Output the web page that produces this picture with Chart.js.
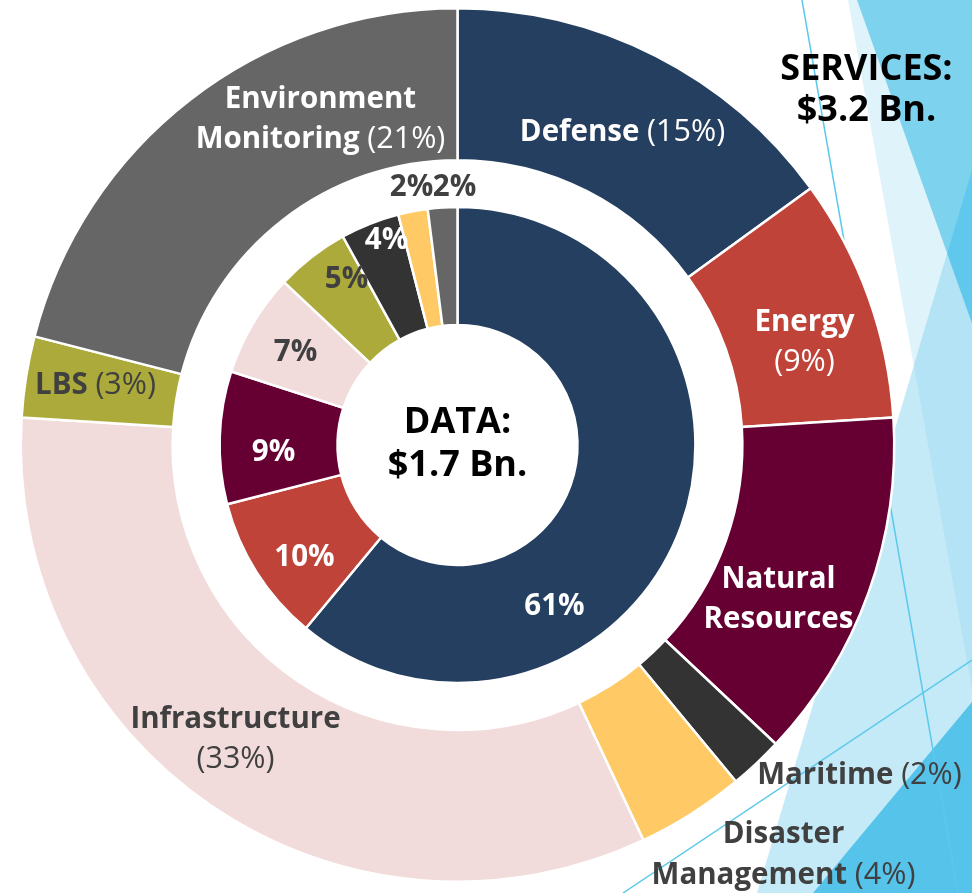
<!DOCTYPE html>
<html><head><meta charset="utf-8">
<script src="https://cdn.jsdelivr.net/npm/chart.js@4"></script>
<style>html,body{margin:0;padding:0;background:#fff;overflow:hidden}canvas{display:block}</style>
</head><body>
<canvas id="c" width="972" height="893"></canvas>
<script>
// ---------- DATA ----------
const servicesCategories = ['Defense','Energy','Natural Resources','Maritime','Disaster Management','Infrastructure','LBS','Environment Monitoring'];
const servicesShares = [15, 9, 13, 2, 4, 33, 3, 21];
const dataCategories = ['Defense','Energy','Natural Resources','Infrastructure','LBS','Maritime','Disaster Management','Environment Monitoring'];
const dataShares = [61, 10, 9, 7, 5, 4, 2, 2];
const servicesTitle = ['SERVICES:', '$3.2 Bn.'];
const dataTitle = ['DATA:', '$1.7 Bn.'];

// ---------- STYLE / LAYOUT ----------
const servicesColors = ['#243F60','#C0433A','#660033','#333333','#FFCA66','#F2DCDB','#ABAA3A','#666666'];
const dataColors = ['#243F60','#C0433A','#660033','#F2DCDB','#ABAA3A','#333333','#FFCA66','#666666'];
const DARK = '#404040', WHITE = '#FFFFFF';
// outer label layout: offsets from chart centre, line templates ({p} = share)
const servicesLabelLayout = [
  {dx:165, dy:-315, color:WHITE, lines:['Defense {p}']},
  {dx:347, dy:-105, color:WHITE, lines:['Energy','{p}']},
  {dx:321, dy:152, color:WHITE, lines:['Natural','Resources']},
  {dx:402, dy:328, color:DARK, lines:['Maritime {p}']},
  {dx:326, dy:408, color:DARK, lines:['Disaster','Management {p}'], lh:41},
  {dx:-222, dy:292, color:DARK, lines:['Infrastructure','{p}']},
  {dx:-362, dy:-62, color:DARK, lines:['LBS {p}']},
  {dx:-137, dy:-328, color:WHITE, lines:['Environment','Monitoring {p}']}
];
const dataLabelLayout = [
  {dx:97, dy:159, color:WHITE},
  {dx:-153, dy:110, color:WHITE},
  {dx:-184, dy:5, color:WHITE},
  {dx:-162, dy:-95, color:DARK},
  {dx:-111, dy:-168, color:DARK},
  {dx:-71, dy:-207, color:WHITE},
  {dx:-46, dy:-260, color:DARK},
  {dx:-3, dy:-260, color:DARK}
];
const FONT = '"Open Sans", "Noto Sans", sans-serif';
const LABEL_SIZE = 29.5;
const PCT_SIZE = 30.5;
const TITLE_SIZE = 36;

// ---------- background decoration (slide theme) ----------
const bgPlugin = {
  id: 'bg',
  beforeDraw(chart) {
    const ctx = chart.ctx, W = chart.width, H = chart.height;
    ctx.save();
    ctx.fillStyle = '#FFFFFF';
    ctx.fillRect(0, 0, W, H);
    const poly = pts => { ctx.beginPath(); pts.forEach((p, i) => i ? ctx.lineTo(p[0], p[1]) : ctx.moveTo(p[0], p[1])); ctx.closePath(); };
    const P = [[848,0],[W,0],[W,689]];
    const M = [[857,0],[W,0],[W,323]];
    const L = [[W,170],[757,H],[W,H]];
    const B = [[W,702],[813,H],[W,H]];
    poly(P); ctx.fillStyle = '#DFF3FA'; ctx.fill();
    poly(L); ctx.fillStyle = '#C5EAF7'; ctx.fill();
    ctx.save(); poly(P); ctx.clip(); poly(L); ctx.fillStyle = '#B3E3F5'; ctx.fill(); ctx.restore();
    poly(M); ctx.fillStyle = '#7DD3EE'; ctx.fill();
    ctx.save(); poly(L); ctx.clip(); poly(M); ctx.fillStyle = '#5FC8EC'; ctx.fill(); ctx.restore();
    poly(B); ctx.fillStyle = '#55C3EA'; ctx.fill();
    ctx.strokeStyle = '#5BC8EC'; ctx.lineWidth = 1.5;
    ctx.beginPath(); ctx.moveTo(802, 0); ctx.lineTo(958, H); ctx.stroke();
    ctx.beginPath(); ctx.moveTo(623, H); ctx.lineTo(W, 660); ctx.stroke();
    ctx.restore();
  }
};

function drawMixedLine(ctx, text, pct, x, y, color) {
  // bold words, normal-weight share "(x%)"
  const segs = [];
  const parts = text.split('{p}');
  if (parts[0].length) segs.push({t: parts[0], w: 'bold', s: LABEL_SIZE});
  if (parts.length > 1) segs.push({t: '(' + pct + '%)', w: 'normal', s: PCT_SIZE});
  if (parts.length > 1 && parts[1].length) segs.push({t: parts[1], w: 'bold', s: LABEL_SIZE});
  let total = 0;
  segs.forEach(s => { ctx.font = s.w + ' ' + s.s + 'px ' + FONT; s.width = ctx.measureText(s.t).width; total += s.width; });
  let cx = x - total / 2;
  ctx.fillStyle = color;
  ctx.textAlign = 'left';
  ctx.textBaseline = 'alphabetic';
  segs.forEach(s => { ctx.font = s.w + ' ' + s.s + 'px ' + FONT; ctx.fillText(s.t, cx, y + LABEL_SIZE * 0.357); cx += s.width; });
}

const labelPlugin = {
  id: 'labels',
  afterDraw(chart) {
    const ctx = chart.ctx;
    const arc = chart.getDatasetMeta(0).data[0];
    const cx = arc.x, cy = arc.y;
    ctx.save();
    servicesLabelLayout.forEach((lay, i) => {
      const lh = lay.lh || 40;
      const n = lay.lines.length;
      lay.lines.forEach((ln, k) => {
        const y = cy + lay.dy + (k - (n - 1) / 2) * lh;
        drawMixedLine(ctx, ln, servicesShares[i], cx + lay.dx, y, lay.color);
      });
    });
    dataLabelLayout.forEach((lay, i) => {
      ctx.font = 'bold ' + LABEL_SIZE + 'px ' + FONT;
      ctx.fillStyle = lay.color;
      ctx.textAlign = 'center';
      ctx.textBaseline = 'alphabetic';
      ctx.fillText(dataShares[i] + '%', cx + lay.dx, cy + lay.dy + LABEL_SIZE * 0.357);
    });
    // titles
    ctx.font = 'bold ' + TITLE_SIZE + 'px ' + FONT;
    ctx.fillStyle = '#000000';
    ctx.textAlign = 'center';
    dataTitle.forEach((t, k) => ctx.fillText(t, cx, cy - 25 + k * 43 + TITLE_SIZE * 0.357));
    servicesTitle.forEach((t, k) => ctx.fillText(t, cx + 409, cy - 378 + k * 41 + TITLE_SIZE * 0.357));
    ctx.restore();
  }
};

new Chart(document.getElementById('c'), {
  type: 'doughnut',
  data: {
    labels: servicesCategories,
    datasets: [
      {label: 'Services', data: servicesShares, backgroundColor: servicesColors, borderColor: '#FFFFFF', borderWidth: 2.5, weight: 152},
      {label: 'gap', data: [1], backgroundColor: 'rgba(0,0,0,0)', borderWidth: 0, weight: 47},
      {label: 'Data', data: dataShares, backgroundColor: dataColors, borderColor: '#FFFFFF', borderWidth: 2.5, weight: 118}
    ]
  },
  options: {
    responsive: false,
    animation: false,
    events: [],
    cutout: 120,
    layout: {padding: {left: 19.5, right: 76.5, top: 7, bottom: 10}},
    plugins: {legend: {display: false}, tooltip: {enabled: false}}
  },
  plugins: [bgPlugin, labelPlugin]
});
</script>
</body></html>
